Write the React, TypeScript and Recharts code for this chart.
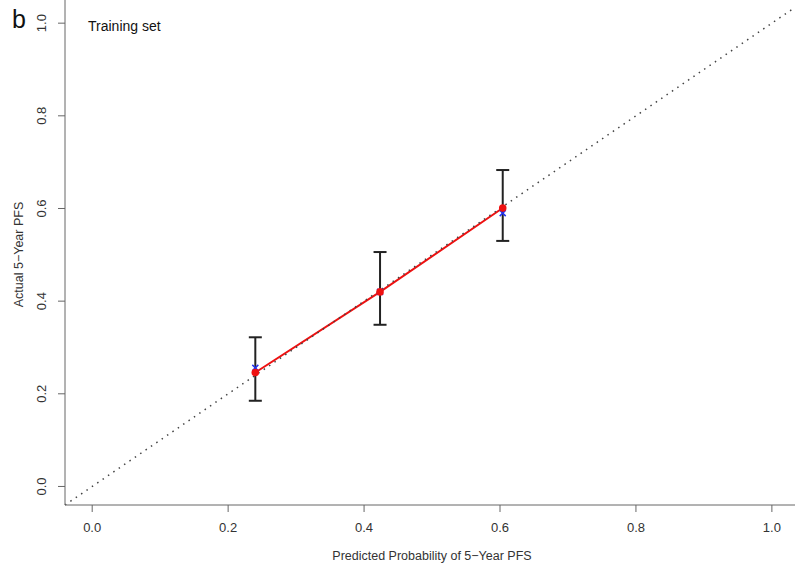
import {
  ComposedChart,
  Line,
  Scatter,
  ErrorBar,
  XAxis,
  YAxis,
  ReferenceLine,
  Label,
} from "recharts"

const predicted = [0.24, 0.4235, 0.604]
const observed = [0.246, 0.42, 0.601]
const corrected = [0.256, 0.42, 0.59]
const ciLower = [0.185, 0.349, 0.53]
const ciUpper = [0.322, 0.506, 0.683]

const axisTicks = [0, 0.2, 0.4, 0.6, 0.8, 1.0]
const xDomain: [number, number] = [-0.04, 1.034]
const yDomain: [number, number] = [-0.04, 1.05]

const data = predicted.map((p, i) => ({
  predicted: p,
  observed: observed[i],
  corrected: corrected[i],
  err: [observed[i] - ciLower[i], ciUpper[i] - observed[i]],
}))

const FONT = '"Liberation Sans", Arial, Helvetica, sans-serif'
const TEXT = "#333"
const AXIS = "#666"

const YTick = (props: any) => {
  const { x, y, payload } = props
  return (
    <text
      x={x}
      y={y}
      transform={`rotate(-90, ${x}, ${y})`}
      textAnchor="middle"
      fontSize={13}
      fill={TEXT}
      fontFamily={FONT}
    >
      {Number(payload.value).toFixed(1)}
    </text>
  )
}

const BlueCross = (props: any) => {
  const { cx, cy } = props
  const s = 3
  return (
    <g stroke="#2233ee" strokeWidth={1.5}>
      <line x1={cx - s} y1={cy - s} x2={cx + s} y2={cy + s} />
      <line x1={cx - s} y1={cy + s} x2={cx + s} y2={cy - s} />
    </g>
  )
}

const RedDot = (props: any) => {
  const { cx, cy } = props
  return <circle cx={cx} cy={cy} r={3.8} fill="#ee1111" />
}

export default function App() {
  return (
    <div style={{ position: "absolute", left: 0, top: 0, width: 800, height: 569, background: "#fff" }}>
      <ComposedChart
        width={800}
        height={569}
        data={data}
        margin={{ top: 0, right: 5, left: 0, bottom: 0 }}
      >
        <XAxis
          type="number"
          dataKey="predicted"
          domain={xDomain}
          ticks={axisTicks}
          allowDataOverflow
          height={64}
          tickSize={7}
          tickMargin={11}
          tickFormatter={(v: number) => v.toFixed(1)}
          axisLine={{ stroke: AXIS }}
          tickLine={{ stroke: AXIS }}
          tick={{ fontSize: 13, fill: TEXT, fontFamily: FONT }}
        >
          <Label
            content={(p: any) => (
              <text
                x={p.viewBox.x + p.viewBox.width / 2 + 2}
                y={560}
                textAnchor="middle"
                fontSize={12.5}
                fill={TEXT}
                fontFamily={FONT}
              >
                Predicted Probability of 5−Year PFS
              </text>
            )}
          />
        </XAxis>
        <YAxis
          type="number"
          domain={yDomain}
          ticks={axisTicks}
          allowDataOverflow
          width={65}
          tickSize={7}
          tickMargin={12}
          axisLine={{ stroke: AXIS }}
          tickLine={{ stroke: AXIS }}
          tick={<YTick />}
        >
          <Label
            content={(p: any) => {
              const cy = p.viewBox.y + p.viewBox.height / 2 + 2
              return (
                <text
                  x={23}
                  y={cy}
                  transform={`rotate(-90, 23, ${cy})`}
                  textAnchor="middle"
                  fontSize={12.5}
                  fill={TEXT}
                  fontFamily={FONT}
                >
                  Actual 5−Year PFS
                </text>
              )
            }}
          />
        </YAxis>
        <Line
          type="linear"
          dataKey="observed"
          stroke="#ee1111"
          strokeWidth={2}
          dot={false}
          activeDot={false}
          isAnimationActive={false}
        />
        <ReferenceLine
          segment={[
            { x: xDomain[0], y: xDomain[0] },
            { x: xDomain[1], y: xDomain[1] },
          ]}
          stroke="#444"
          strokeWidth={1.5}
          strokeDasharray="1.5 5"
        />
        <Scatter dataKey="corrected" shape={<BlueCross />} isAnimationActive={false} />
        <Scatter dataKey="observed" shape={<RedDot />} isAnimationActive={false}>
          <ErrorBar dataKey="err" direction="y" width={6.5} strokeWidth={2} stroke="#222" />
        </Scatter>
      </ComposedChart>
      <svg
        width={800}
        height={569}
        style={{ position: "absolute", left: 0, top: 0, pointerEvents: "none" }}
      >
        <text x={12} y={28} fontSize={25} fill="#111" fontFamily={FONT}>
          b
        </text>
        <text x={88} y={31} fontSize={14} fill="#111" fontFamily={FONT}>
          Training set
        </text>
      </svg>
    </div>
  )
}
